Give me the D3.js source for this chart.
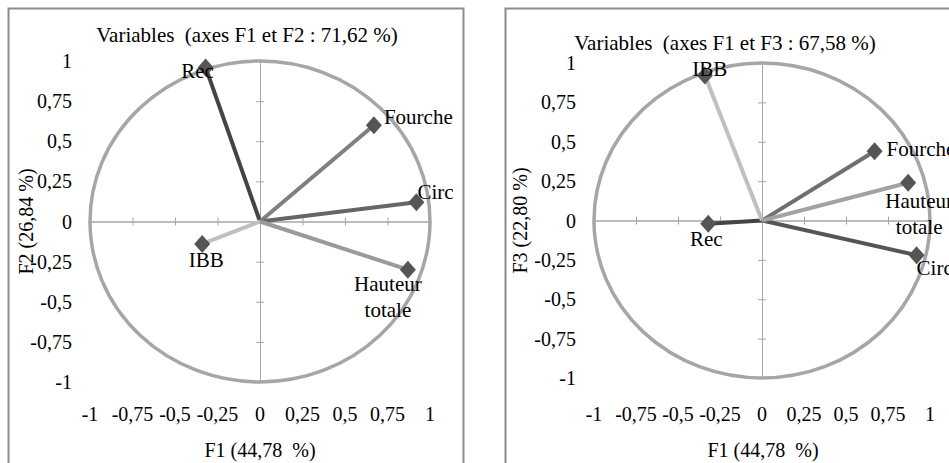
<!DOCTYPE html>
<html>
<head>
<meta charset="utf-8">
<script src="https://cdn.jsdelivr.net/npm/d3@7"></script>
<style>
  body { margin: 0; background: #fff; }
  text { font-family: "Liberation Serif", "Times New Roman", serif; fill: #000; white-space: pre; }
</style>
</head>
<body>
<div id="chart"></div>
<script>
// variables of the PCA and their coordinates on the factors
var variables = ["Rec", "Fourche", "Circ", "IBB", "Hauteur totale"];
var f1 = [-0.32, 0.67, 0.92, -0.34, 0.87];
var f2 = [0.96, 0.60, 0.12, -0.14, -0.30];
var f3 = [-0.02, 0.44, -0.22, 0.92, 0.24];

var tickValues = [-1, -0.75, -0.5, -0.25, 0, 0.25, 0.5, 0.75, 1];
var tickLabels = ["-1", "-0,75", "-0,5", "-0,25", "0", "0,25", "0,5", "0,75", "1"];

var svg = d3.select("#chart")
  .append("svg")
    .attr("width", 949)
    .attr("height", 463);

// one config per panel: frame, plot ranges, text and label offsets
var panels = [
  {
    frame: [8.5, 8.5, 455, 480],
    xr: [90, 430], yr: [382, 61],
    title: "Variables  (axes F1 et F2 : 71,62 %)", titleX: 247, titleY: 42,
    xTitle: "F1 (44,78  %)", xTitleX: 260, xTitleY: 457,
    yTitle: "F2 (26,84 %)", yTitleX: 26,
    labelY: 421, ys: f2,
    colors: ["#444444", "#808080", "#666666", "#c0c0c0", "#9a9a9a"],
    // dx, dy, anchor for each variable label
    offs: [[-8, 11, "middle"], [10, -1, "start"], [1, -3, "start"], [4, 23, "middle"], [-20, 21, "middle"]]
  },
  {
    frame: [505.5, 8.5, 480, 480],
    xr: [594, 930], yr: [378, 63],
    title: "Variables  (axes F1 et F3 : 67,58 %)", titleX: 725, titleY: 50,
    xTitle: "F1 (44,78  %)", xTitleX: 763, xTitleY: 457,
    yTitle: "F3 (22,80 %)", yTitleX: 520,
    labelY: 421, ys: f3,
    colors: ["#444444", "#707070", "#555555", "#c0c0c0", "#a2a2a2"],
    offs: [[-2, 22, "middle"], [12, 5, "start"], [0, 20, "start"], [5, 0, "middle"], [11, 25, "middle"]]
  }
];

panels.forEach(function(p) {
  var x = d3.scaleLinear().domain([-1, 1]).range(p.xr);
  var y = d3.scaleLinear().domain([-1, 1]).range(p.yr);

  // chart frame
  svg.append("rect")
    .attr("x", p.frame[0]).attr("y", p.frame[1])
    .attr("width", p.frame[2]).attr("height", p.frame[3])
    .attr("fill", "none")
    .attr("stroke", "#8c8c8c")
    .attr("stroke-width", 2);

  // axes through the origin, ticks crossing the line
  var g = svg.append("g");
  [4, -4].forEach(function(s) {
    g.append("g")
      .attr("transform", "translate(0," + y(0) + ")")
      .call(d3.axisBottom(x).tickValues(tickValues).tickSize(s).tickSizeOuter(0).tickFormat(""));
    g.append("g")
      .attr("transform", "translate(" + x(0) + ",0)")
      .call(d3.axisRight(y).tickValues(tickValues).tickSize(s).tickSizeOuter(0).tickFormat(""));
  });
  g.selectAll(".domain, .tick line")
    .attr("stroke", "#a6a6a6")
    .attr("stroke-width", 1);

  // correlation circle
  svg.append("ellipse")
    .attr("cx", x(0)).attr("cy", y(0))
    .attr("rx", x(1) - x(0)).attr("ry", y(0) - y(1))
    .attr("fill", "none")
    .attr("stroke", "#a6a6a6")
    .attr("stroke-width", 3.5);

  // tick labels
  svg.append("g").selectAll("text")
    .data(tickValues)
    .enter()
    .append("text")
      .attr("x", function(d) { return x(d); })
      .attr("y", p.labelY)
      .attr("text-anchor", "middle")
      .style("font-size", "20px")
      .text(function(d, i) { return tickLabels[i]; });

  svg.append("g").selectAll("text")
    .data(tickValues)
    .enter()
    .append("text")
      .attr("x", p.xr[0] - 18)
      .attr("y", function(d) { return y(d); })
      .attr("dy", "0.35em")
      .attr("text-anchor", "end")
      .style("font-size", "20px")
      .text(function(d, i) { return tickLabels[i]; });

  // vectors from the origin
  svg.append("g").selectAll("line")
    .data(variables)
    .enter()
    .append("line")
      .attr("x1", x(0)).attr("y1", y(0))
      .attr("x2", function(d, i) { return x(f1[i]); })
      .attr("y2", function(d, i) { return y(p.ys[i]); })
      .attr("stroke", function(d, i) { return p.colors[i]; })
      .attr("stroke-width", 4);

  // diamond markers
  svg.append("g").selectAll("path")
    .data(variables)
    .enter()
    .append("path")
      .attr("transform", function(d, i) { return "translate(" + x(f1[i]) + "," + y(p.ys[i]) + ")"; })
      .attr("d", "M0,-9L8,0L0,9L-8,0Z")
      .attr("fill", "#555555");

  // variable labels
  var lab = svg.append("g").selectAll("text")
    .data(variables)
    .enter()
    .append("text")
      .attr("x", function(d, i) { return x(f1[i]) + p.offs[i][0]; })
      .attr("y", function(d, i) { return y(p.ys[i]) + p.offs[i][1]; })
      .attr("text-anchor", function(d, i) { return p.offs[i][2]; })
      .style("font-size", "21px");
  lab.each(function(d, i) {
    var words = d.split(" ");
    var t = d3.select(this);
    words.forEach(function(w, j) {
      t.append("tspan")
        .attr("x", x(f1[i]) + p.offs[i][0])
        .attr("dy", j === 0 ? 0 : 26)
        .text(w);
    });
  });

  // titles
  svg.append("text")
    .attr("x", p.titleX).attr("y", p.titleY)
    .attr("text-anchor", "middle")
    .style("font-size", "21px")
    .text(p.title);

  svg.append("text")
    .attr("x", p.xTitleX).attr("y", p.xTitleY)
    .attr("text-anchor", "middle")
    .style("font-size", "20px")
    .text(p.xTitle);

  svg.append("text")
    .attr("transform", "translate(" + p.yTitleX + "," + y(0) + ") rotate(-90)")
    .attr("dy", "0.35em")
    .attr("text-anchor", "middle")
    .style("font-size", "20px")
    .text(p.yTitle);
});
</script>
</body>
</html>
